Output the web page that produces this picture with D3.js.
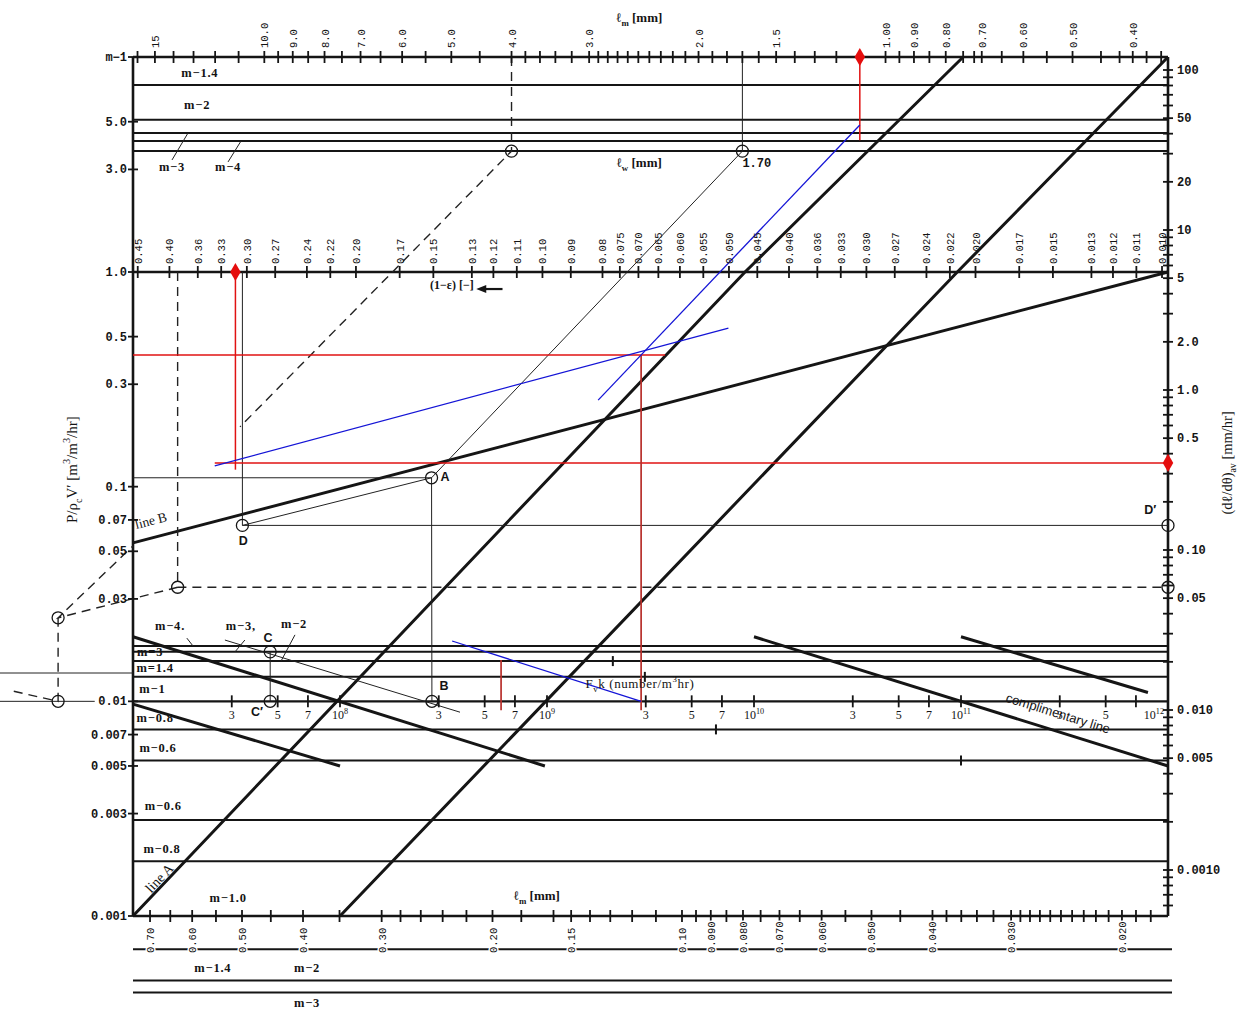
<!DOCTYPE html>
<html>
<head>
<meta charset="utf-8">
<script src="https://cdn.jsdelivr.net/npm/d3@7"></script>
<style>
  body { margin: 0; background: #fff; }
  svg { display: block; }
  text { font-family: "Liberation Serif", "DejaVu Serif", serif; fill: #141414; }
  .mono { font-family: "Liberation Mono", "DejaVu Sans Mono", monospace; }
  .sans { font-family: "Liberation Sans", Arial, sans-serif; }
</style>
</head>
<body>
<svg id="chart" width="1241" height="1015"></svg>
<script>
// ---------------- axis values ----------------
const lmTopLabels = ["15","10.0","9.0","8.0","7.0","6.0","5.0","4.0","3.0","2.0","1.5","1.00","0.90","0.80","0.70","0.60","0.50","0.40"];
const lmTopMinor = [16,14,13,12,11,9.5,8.5,7.5,6.5,5.5,4.5,3.8,3.6,3.4,3.2,2.9,2.8,2.7,2.6,2.5,2.4,2.3,2.2,2.1,
                    1.9,1.8,1.7,1.6,1.4,1.3,1.2,1.1,0.95,0.85,0.75,0.72,0.65,0.55,0.45,0.42,0.38,0.36];
const voidLabels = ["0.45","0.40","0.36","0.33","0.30","0.27","0.24","0.22","0.20","0.17","0.15","0.13","0.12","0.11",
                    "0.10","0.09","0.08","0.075","0.070","0.065","0.060","0.055","0.050","0.045","0.040","0.036","0.033",
                    "0.030","0.027","0.024","0.022","0.020","0.017","0.015","0.013","0.012","0.011","0.010"];
const lmBotLabels = ["0.70","0.60","0.50","0.40","0.30","0.20","0.15","0.10","0.090","0.080","0.070","0.060","0.050","0.040","0.030","0.020"];
const lmBotMinor = [0.65,0.55,0.45,0.35,0.28,0.26,0.24,0.22,0.18,0.16,0.14,0.13,0.12,0.11,0.095,0.085,0.075,0.065,0.055,
                    0.045,0.038,0.036,0.034,0.032,0.029,0.028,0.027,0.026,0.025,0.024,0.023,0.022,0.021,0.019,0.018];
const fTicks = [3e7,5e7,7e7,1e8,3e8,5e8,7e8,1e9,3e9,5e9,7e9,1e10,3e10,5e10,7e10,1e11,3e11,5e11,7e11,1e12];
const fUnlabeled = [7e11];
const leftUpperLabels = [[10,"m−1"],[5,"5.0"],[3,"3.0"]];
const leftLowerLabels = [[1,"1.0"],[0.5,"0.5"],[0.3,"0.3"],[0.1,"0.1"],[0.07,"0.07"],[0.05,"0.05"],[0.03,"0.03"],
                         [0.01,"0.01"],[0.007,"0.007"],[0.005,"0.005"],[0.003,"0.003"],[0.001,"0.001"]];
const rightLabels = [[100,"100"],[50,"50"],[20,"20"],[10,"10"],[5,"5"],[2,"2.0"],[1,"1.0"],[0.5,"0.5"],
                     [0.1,"0.10"],[0.05,"0.05"],[0.01,"0.010"],[0.005,"0.005"],[0.001,"0.0010"]];

// ---------------- nomograph construction ----------------
// Points are [section, x value, y value]:
//   U = upper block  (top l_m scale, upper left scale)
//   M = middle block ((1-e) scale, P/rho_c V' scale)
//   L = lower block  (F_v k scale, P/rho_c V' scale)
const upperMLines = [7.4, 5.1, 4.43, 4.07, 3.65];
const lowerMLines = [0.0181, 0.017, 0.0154, 0.013, 0.0074, 0.0053, 0.0028, 0.0018];
const fAxisLevel = 0.01;
const outerMLines = [0.0007, 0.0005, 0.00044];

const thickLines = [
  [["U",0.75,10],["M",0.0471,1],["M",0.458,0.001]],          // line A
  [["U",0.351,10],["M",0.0214,1],["M",0.2122,0.001]],
  [["M",0.458,0.0547],["M",0.00978,1]],                       // line B
  [["L",1e7,0.02],["L",9.77e8,0.005]],
  [["L",1e7,0.0097],["L",1e8,0.005]],
  [["L",1e10,0.02],["L",1e12,0.005]],                         // complimentary line
  [["L",1e11,0.02],["L",8e11,0.011]]
];
const thinLines = [
  [["U",1.7,10],["U",1.7,3.65],["M",0.151,0.11]],
  [["M",0.458,0.11],["M",0.151,0.11],["L",2.78e8,0.01]],
  [["M",0.305,1],["M",0.305,0.066],["M",0.00978,0.066]],
  [["M",0.305,0.066],["M",0.151,0.11]],
  [["L",4.6e7,0.017],["L",4.6e7,0.01]],
  [["L",2.78e7,0.0193],["L",3.8e8,0.0089]],
  [["M",0.751,0.01],["M",0.528,0.01]],
  [["M",0.751,0.01355],["M",0.458,0.01355]]
];
const dashedLines = [
  [["U",4,10],["U",4,3.65],["M",0.3077,0.19]],
  [["M",0.388,1],["M",0.388,0.034],["M",0.00978,0.034]],
  [["M",0.388,0.034],["M",0.605,0.0245],["M",0.458,0.053]],
  [["M",0.605,0.0245],["M",0.605,0.01],["M",0.729,0.0113]]
];
const redLines = [
  [["U",1.1,10],["U",1.1,4.1]],
  [["M",0.313,1],["M",0.313,0.12]],
  [["M",0.338,0.129],["M",0.00978,0.129]],
  [["M",0.458,0.41],["M",0.0634,0.41]]
];
const redDrops = [
  [["M",0.0693,0.41],["M",0.0693,0.0091]],
  [["L",6e8,0.0156],["L",6e8,0.0091]]
];
const blueLines = [
  [["U",1.1,4.83],["M",0.0813,0.253]],
  [["M",0.338,0.125],["M",0.0501,0.548]],
  [["L",3.48e8,0.0191],["L",2.85e9,0.01]]
];
const circles = [["U",4,3.65],["U",1.7,3.65],["M",0.151,0.11],["L",2.78e8,0.01],["L",4.6e7,0.017],["L",4.6e7,0.01],
                 ["M",0.305,0.066],["M",0.00978,0.066],["M",0.388,0.034],["M",0.00978,0.034],["M",0.605,0.0245],["M",0.605,0.01]];
const diamonds = [["U",1.1,10],["M",0.313,1],["M",0.00978,0.129]];
const lineMarks = [["L",2.08e9,0.0154],["L",2.97e9,0.013],["L",6.55e9,0.0074],["L",1e11,0.0053]];

const pointLabels = [
  [["M",0.1436,0.1063],"A"],[["L",3.18e8,0.01128],"B"],[["L",4.49e7,0.0188],"C"],
  [["L",3.97e7,0.00854],"C′"],[["M",0.304,0.0535],"D"],[["M",0.01045,0.0746],"D′"]
];
const mLabels = [
  [["U",12.7,8.07],"m−1.4"],[["U",12.83,5.73],"m−2"],[["U",14.08,2.95],"m−3"],[["U",11.44,2.95],"m−4"],
  [["L",1.51e7,0.0215],"m−4."],[["L",3.32e7,0.0215],"m−3,"],[["L",6.0e7,0.022],"m−2"],
  [["L",1.21e7,0.01627],"m=3"],[["L",1.28e7,0.0137],"m=1.4"],[["L",1.24e7,0.01094],"m−1"],
  [["L",1.28e7,0.008],"m−0.8"],[["L",1.32e7,0.0058],"m−0.6"],[["L",1.40e7,0.00312],"m−0.6"],
  [["L",1.38e7,0.00197],"m−0.8"],[["L",2.88e7,0.00116],"m−1.0"],
  [["L",2.43e7,0.00055],"m−1.4"],[["L",6.93e7,0.00055],"m−2"],[["L",6.93e7,0.000377],"m−3"]
];
const leaders = [
  [["U",14.08,3.32],["U",13.27,4.43]],
  [["U",11.44,3.25],["U",10.9,4.07]],
  [["L",1.82e7,0.0197],["L",1.95e7,0.0181]],
  [["L",3.47e7,0.0193],["L",3.11e7,0.017]],
  [["L",6.06e7,0.0204],["L",5.19e7,0.0154]]
];

// ---------------- scales ----------------
const L = 133, R = 1168, T = 57, MIDY = 272, BOT = 916;
const xTop = d3.scaleLog().domain([16.27, 0.351]).range([L, R]);
const xMid = d3.scaleLog().domain([0.458, 0.00978]).range([L, R]);
const xF   = d3.scaleLog().domain([1e7, 1e12]).range([L, R]);
const xBot = d3.scaleLog().domain([0.745, 0.0169]).range([L, R]);
const yU   = d3.scaleLog().domain([10, 1]).range([T, MIDY]);
const yL   = d3.scaleLog().domain([1, 0.001]).range([MIDY, BOT]);
const yR   = d3.scaleLog().domain([100, 0.001]).range([70, 870]);

function pt(p) {
  const [s, a, b] = p;
  if (s === "U") return [xTop(a), yU(b)];
  if (s === "M") return [xMid(a), yL(b)];
  return [xF(a), yL(b)];
}

const svg = d3.select("#chart");
const ink = "#151515";
const line = d3.line();

function drawPaths(data, stroke, width, dash) {
  svg.append("g").selectAll("path").data(data).join("path")
    .attr("d", d => line(d.map(pt)))
    .attr("fill", "none").attr("stroke", stroke).attr("stroke-width", width)
    .attr("stroke-dasharray", dash || null).attr("stroke-linecap", "butt");
}

function rich(sel, parts, size) {
  let shift = 0;
  parts.forEach(([t, k]) => {
    const target = k === "sub" ? size * 0.3 : k === "sup" ? -size * 0.45 : 0;
    const ts = sel.append("tspan").attr("dy", target - shift).text(t);
    if (k) ts.attr("font-size", size * 0.68);
    shift = target;
  });
}

// ---------------- horizontal scale lines ----------------
const hl = svg.append("g").attr("stroke", ink).attr("fill", "none");
upperMLines.forEach(v => hl.append("line").attr("x1", L).attr("x2", R).attr("y1", yU(v)).attr("y2", yU(v)).attr("stroke-width", 2));
lowerMLines.forEach(v => hl.append("line").attr("x1", L).attr("x2", R).attr("y1", yL(v)).attr("y2", yL(v)).attr("stroke-width", 2));
outerMLines.forEach(v => hl.append("line").attr("x1", L).attr("x2", R + 4).attr("y1", yL(v)).attr("y2", yL(v)).attr("stroke-width", 2));
hl.append("line").attr("x1", L).attr("x2", R).attr("y1", yL(fAxisLevel)).attr("y2", yL(fAxisLevel)).attr("stroke-width", 2.4);

// frame and main axes
const fr = svg.append("g").attr("stroke", ink).attr("stroke-width", 2.6).attr("fill", "none");
fr.append("line").attr("x1", L).attr("x2", R).attr("y1", yU(10)).attr("y2", yU(10));
fr.append("line").attr("x1", L).attr("x2", R).attr("y1", yU(1)).attr("y2", yU(1));
fr.append("line").attr("x1", L).attr("x2", R).attr("y1", yL(0.001)).attr("y2", yL(0.001));
fr.append("line").attr("x1", L).attr("x2", L).attr("y1", yU(10)).attr("y2", yL(0.001));
fr.append("line").attr("x1", R).attr("x2", R).attr("y1", yU(10)).attr("y2", yL(0.001));

// construction lines
drawPaths(thickLines, ink, 3);
drawPaths(thinLines, "#222", 1);
drawPaths(leaders, "#222", 1);
drawPaths(dashedLines, "#222", 1.4, "9,6");
drawPaths(redLines, "#e01212", 1.5);
drawPaths(redDrops, "#b8302c", 1.7);
drawPaths(blueLines, "#1414d6", 1.3);

// small marks on the m lines
svg.append("g").selectAll("line").data(lineMarks).join("line")
  .attr("x1", d => pt(d)[0]).attr("x2", d => pt(d)[0])
  .attr("y1", d => pt(d)[1] - 5).attr("y2", d => pt(d)[1] + 5)
  .attr("stroke", ink).attr("stroke-width", 2);

// ---------------- ticks ----------------
const tk = svg.append("g").attr("stroke", ink).attr("stroke-width", 1.8);
function hTicks(vals, sc, y, h) {
  vals.forEach(v => tk.append("line").attr("x1", sc(v)).attr("x2", sc(v)).attr("y1", y - h).attr("y2", y + h));
}
function vTicks(vals, sc, x, w) {
  vals.forEach(v => tk.append("line").attr("y1", sc(v)).attr("y2", sc(v)).attr("x1", x - w).attr("x2", x + w));
}
hTicks(lmTopLabels.map(Number).concat(lmTopMinor), xTop, yU(10), 6);
hTicks(voidLabels.map(Number), xMid, yU(1), 6);
hTicks(lmBotLabels.map(Number).concat(lmBotMinor), xBot, yL(0.001), 6);
hTicks(fTicks, xF, yL(fAxisLevel), 6);
vTicks(leftUpperLabels.map(d => d[0]), yU, L, 5);
vTicks(leftLowerLabels.map(d => d[0]), yL, L, 5);
const rightMinor = [];
d3.range(-4, 3).forEach(e => d3.range(1, 10).forEach(m => {
  const v = m * Math.pow(10, e);
  if (yR(v) > yU(10) + 3 && yR(v) < yL(0.001) - 3) rightMinor.push(v);
}));
vTicks(rightMinor, yR, R, 5);

// ---------------- tick labels ----------------
const tl = svg.append("g").attr("font-size", 10.5);
lmTopLabels.forEach(t => tl.append("text").attr("class", "mono")
  .attr("transform", `translate(${xTop(+t) + 4},${yU(10) - 9}) rotate(-90)`).text(t));
voidLabels.forEach(t => tl.append("text").attr("class", "mono")
  .attr("transform", `translate(${xMid(+t) + 4},${yU(1) - 8}) rotate(-90)`).text(t));
lmBotLabels.forEach(t => tl.append("text").attr("class", "mono")
  .attr("transform", `translate(${xBot(+t) + 4},${yL(0.001) + 37}) rotate(-90)`)
  .attr("stroke", "#fff").attr("stroke-width", 3).attr("paint-order", "stroke").text(t));

const ll = svg.append("g").attr("font-size", 12).attr("text-anchor", "end");
leftUpperLabels.forEach(([v, t]) => ll.append("text").attr("class", "mono").attr("font-weight", 700)
  .attr("x", L - 6).attr("y", yU(v) + 4).text(t));
leftLowerLabels.forEach(([v, t]) => ll.append("text").attr("class", "mono").attr("font-weight", 700)
  .attr("x", L - 6).attr("y", yL(v) + 4).text(t));
const rl = svg.append("g").attr("font-size", 12);
rightLabels.forEach(([v, t]) => rl.append("text").attr("class", "mono").attr("font-weight", 700)
  .attr("x", R + 9).attr("y", yR(v) + 4).text(t));

const fl = svg.append("g").attr("font-size", 12).attr("text-anchor", "middle");
fTicks.filter(v => !fUnlabeled.includes(v)).forEach(v => {
  const e = Math.round(Math.log10(v));
  const m = Math.round(v / Math.pow(10, Math.floor(Math.log10(v) + 1e-9)));
  const isLast = v === xF.domain()[1];
  const t = fl.append("text").attr("x", xF(v) - (isLast ? 4 : 0)).attr("y", yL(fAxisLevel) + 18)
    .attr("text-anchor", isLast ? "end" : "middle");
  if (m === 1) rich(t, [["10", null], [String(e), "sup"]], 12); else t.text(m);
});

// ---------------- titles and annotations ----------------
function label(p, parts, size, opts = {}) {
  const [x, y] = pt(p);
  const t = svg.append("text").attr("font-size", size).attr("text-anchor", opts.anchor || "middle")
    .attr("font-weight", opts.weight || 400)
    .attr("transform", `translate(${x},${y}) rotate(${opts.rotate || 0})`)
    .attr("dy", "0.35em");
  if (opts.family) t.attr("class", opts.family);
  if (opts.spacing) t.attr("letter-spacing", opts.spacing);
  rich(t, parts, size);
  return t;
}

label(["U",2.49,14.5], [["ℓ",null],["m","sub"],[" [mm]",null]], 13, {weight: 700});
label(["U",2.49,3.08], [["ℓ",null],["w","sub"],[" [mm]",null]], 13, {weight: 700});
label(["U",1.7,3.08], [["1.70",null]], 12, {anchor: "start", family: "mono", weight: 700});
label(["M",0.14,0.833], [["(1−ε)  [−]",null]], 12, {weight: 700});
// left-pointing arrow after the (1-e) label
{
  const [x0, y0] = pt(["M",0.126,0.833]);
  const [x1] = pt(["M",0.116,0.833]);
  svg.append("line").attr("x1", x0).attr("x2", x1).attr("y1", y0).attr("y2", y0).attr("stroke", ink).attr("stroke-width", 2.2);
  svg.append("path").attr("d", `M${x0 - 4},${y0} L${x0 + 6},${y0 - 4} L${x0 + 6},${y0 + 4} Z`).attr("fill", ink);
}
label(["L",8.95e8,0.00119], [["ℓ",null],["m","sub"],[" [mm]",null]], 13, {weight: 700});
label(["L",2.81e9,0.01154], [["F",null],["v","sub"],["k (number/m",null],["3","sup"],["hr)",null]], 13, {spacing: 0.6});

function angleOf(seg) {
  const [a, b] = seg.map(pt);
  return Math.atan2(b[1] - a[1], b[0] - a[0]) * 180 / Math.PI;
}
label(["L",2.9e11,0.0084], [["complimentary line",null]], 13, {rotate: angleOf(thickLines[5]), family: "sans"});
label(["M",0.4267,0.0663], [["line B",null]], 13.5, {rotate: angleOf(thickLines[2])});
label(["M",0.41,0.00145], [["line A",null]], 14, {rotate: angleOf([thickLines[0][1], thickLines[0][2]]) + 180});

// axis titles
{
  const t = svg.append("text").attr("font-size", 15).attr("text-anchor", "middle")
    .attr("transform", `translate(${L - 56},${yL(0.12)}) rotate(-90)`);
  rich(t, [["P/ρ",null],["c","sub"],["V′ [m",null],["3","sup"],["/m",null],["3","sup"],["/hr]",null]], 15);
  const r = svg.append("text").attr("font-size", 14.5).attr("text-anchor", "middle")
    .attr("transform", `translate(${R + 64},${yR(0.35)}) rotate(-90)`);
  rich(r, [["(dℓ/dθ)",null],["av","sub"],["  [mm/hr]",null]], 14.5);
}

// construction point names and m labels
pointLabels.forEach(([p, t]) => label(p, [[t, null]], 12.5, {weight: 700, family: "sans"}));
mLabels.forEach(([p, t]) => label(p, [[t, null]], 12.5, {weight: 700, spacing: 0.8}));

// circles and diamonds
svg.append("g").selectAll("circle").data(circles).join("circle")
  .attr("cx", d => pt(d)[0]).attr("cy", d => pt(d)[1]).attr("r", 6)
  .attr("fill", "none").attr("stroke", ink).attr("stroke-width", 1.3);
svg.append("g").selectAll("path").data(diamonds).join("path")
  .attr("transform", d => `translate(${pt(d)[0]},${pt(d)[1]})`)
  .attr("d", d3.symbol(d3.symbolDiamond, 95)).attr("fill", "#e50d0d");
</script>
</body>
</html>
